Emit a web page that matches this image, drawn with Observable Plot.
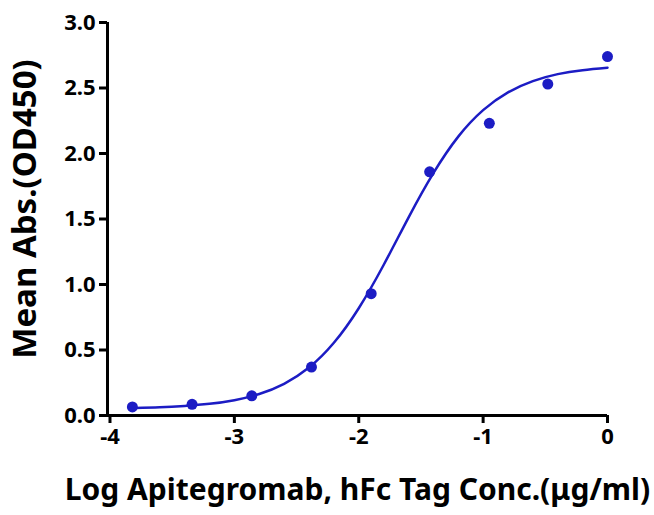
<!DOCTYPE html>
<html><head><meta charset="utf-8">
<script src="https://cdn.jsdelivr.net/npm/d3@7"></script>
<script src="https://cdn.jsdelivr.net/npm/@observablehq/plot@0.6"></script>
<style>body{margin:0;background:#fff}</style>
</head><body><div id="c"></div>
<script>
const pointX = [-3.82, -3.34, -2.86, -2.38, -1.90, -1.43, -0.95, -0.48, 0];
const pointY = [0.065, 0.085, 0.15, 0.37, 0.93, 1.86, 2.23, 2.53, 2.74];
const curveX = [-3.8,-3.6,-3.4,-3.2,-3.0,-2.8,-2.6,-2.4,-2.2,-2.0,-1.8,-1.6,-1.4,-1.2,-1.0,-0.8,-0.6,-0.4,-0.2,0];
const curveY = [0.058,0.063,0.073,0.089,0.117,0.164,0.242,0.366,0.555,0.819,1.149,1.511,1.85,2.129,2.331,2.467,2.553,2.606,2.636,2.655];
const xTicks = [-4,-3,-2,-1,0];
const yTicks = [0,0.5,1.0,1.5,2.0,2.5,3.0];
const pts = pointX.map((x,i)=>({x,y:pointY[i]}));
const curve = curveX.map((x,i)=>({x,y:curveY[i]}));
const blue = "#1c1cc4";
const xf = d=>d===0?"0":"-"+Math.abs(d);
const chart = Plot.plot({
  width:654, height:515,
  marginLeft:107, marginRight:47, marginTop:22, marginBottom:100,
  style:{fontFamily:"'Noto Sans', sans-serif", fontWeight:"bold", color:"#000"},
  x:{domain:[-4.02,0], label:null},
  y:{domain:[0,3], label:null},
  marks:[
    Plot.axisX({ticks:xTicks, tickFormat:xf, tickSize:8, tickPadding:5, strokeWidth:3, fontSize:22}),
    Plot.axisY({ticks:yTicks, tickFormat:d3.format(".1f"), tickSize:8, tickPadding:4, strokeWidth:3, fontSize:22}),
    Plot.ruleX([-4.02],{y1:0,y2:3,stroke:"#000",strokeWidth:3}),
    Plot.ruleY([0],{x1:-4.02,x2:0,stroke:"#000",strokeWidth:3}),
    Plot.line(curve,{x:"x",y:"y",curve:"natural",stroke:blue,strokeWidth:2.5}),
    Plot.dot(pts,{x:"x",y:"y",r:5.5,fill:blue,clip:false}),
    Plot.text(["Log Apitegromab, hFc Tag Conc.(μg/ml)"],{frameAnchor:"bottom",dy:84,fontSize:30,fontWeight:"bold",textAnchor:"middle"}),
    Plot.text(["Mean Abs.(OD450)"],{frameAnchor:"left",dx:-82,dy:-10,rotate:-90,fontSize:33,fontWeight:"bold",textAnchor:"middle"})
  ]
});
document.getElementById("c").appendChild(chart);
</script></body></html>
